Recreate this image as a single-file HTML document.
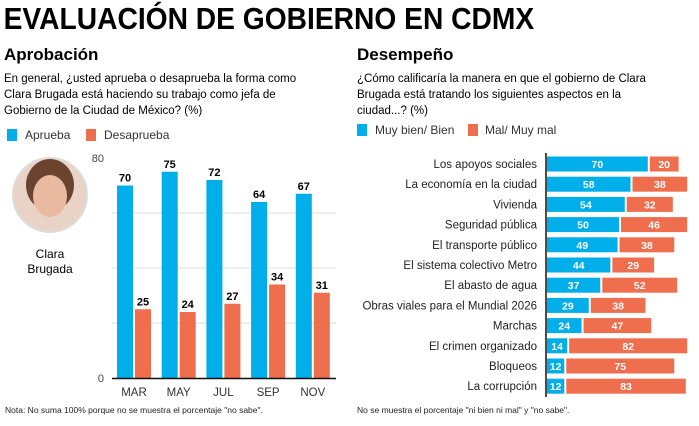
<!DOCTYPE html>
<html><head><meta charset="utf-8"><style>
body{margin:0;width:699px;height:426px;background:#fff;overflow:hidden;font-family:"Liberation Sans",sans-serif;color:#111}
svg{position:absolute;left:0;top:0}
</style></head><body>
<svg id="s" width="699" height="426">
<text x="4" y="29" font-size="31" font-weight="bold" transform="scale(0.91,1)">EVALUACIÓN DE GOBIERNO EN CDMX</text>
<text x="4" y="60" font-size="17" font-weight="bold">Aprobación</text>
<g font-size="11.5">
<text x="4" y="82">En general, ¿usted aprueba o desaprueba la forma como</text>
<text x="4" y="98">Clara Brugada está haciendo su trabajo como jefa de</text>
<text x="4" y="114">Gobierno de la Ciudad de México?  (%)</text></g>
<rect x="7" y="129" width="10" height="12" fill="#00aee9"/>
<text x="25" y="139" font-size="12" fill="#333">Aprueba</text>
<rect x="86" y="129" width="10" height="12" fill="#ee6e4e"/>
<text x="104" y="139" font-size="12" fill="#333">Desaprueba</text>
<circle cx="50" cy="195" r="37" fill="#e8d3c6" stroke="#ddd" stroke-width="2"/>
<ellipse cx="50" cy="185" rx="24" ry="26" fill="#6b4430"/>
<ellipse cx="50" cy="196" rx="17" ry="21" fill="#e9b9a0"/>
<text x="50" y="258" font-size="12" text-anchor="middle"><tspan x="50">Clara</tspan><tspan x="50" dy="15">Brugada</tspan></text>
<text x="357" y="60" font-size="17" font-weight="bold">Desempeño</text>
<g font-size="11.5">
<text x="357" y="82">¿Cómo calificaría la manera en que el gobierno de Clara</text>
<text x="357" y="98">Brugada está tratando los siguientes aspectos en la</text>
<text x="357" y="114">ciudad...?  (%)</text></g>
<rect x="357" y="124" width="10" height="12" fill="#00aee9"/>
<text x="375" y="134" font-size="12" fill="#333">Muy bien/ Bien</text>
<rect x="468" y="124" width="10" height="12" fill="#ee6e4e"/>
<text x="485" y="134" font-size="12" fill="#333">Mal/ Muy mal</text>
<text x="5" y="413" font-size="8.5" fill="#222">Nota: No suma 100% porque no se muestra el porcentaje "no sabe".</text>
<text x="357" y="413" font-size="8.5" fill="#222">No se muestra el porcentaje "ni bien ni mal" y "no sabe".</text>
</svg>
<script>
const months=["MAR","MAY","JUL","SEP","NOV"];
const aprueba=[70,75,72,64,67];
const desaprueba=[25,24,27,34,31];
const yTicks=[0,80];
const aspects=["Los apoyos sociales","La economía en la ciudad","Vivienda","Seguridad pública","El transporte público","El sistema colectivo Metro","El abasto de agua","Obras viales para el Mundial 2026","Marchas","El crimen organizado","Bloqueos","La corrupción"];
const bien=[70,58,54,50,49,44,37,29,24,14,12,12];
const mal=[20,38,32,46,38,29,52,38,47,82,75,83];
const NS="http://www.w3.org/2000/svg",s=document.getElementById("s");
function mk(t,a,txt){const e=document.createElementNS(NS,t);for(const k in a)e.setAttribute(k,a[k]);if(txt!=null)e.textContent=txt;s.appendChild(e);return e;}
const y=v=>378-v*2.75, xc=i=>134+i*44.7;
[20,40,60].forEach(v=>{const g=mk("line",{x1:112,x2:336,y1:y(v),y2:y(v),stroke:"#ddd"});

});
yTicks.forEach(v=>{const t=mk("text",{x:104,y:y(v)+4,"font-size":11,fill:"#444","text-anchor":"end"},v);

});
months.forEach((m,i)=>{
 const b=mk("rect",{x:xc(i)-17,y:y(aprueba[i]),width:16,height:aprueba[i]*2.75,fill:"#00aee9"});
 
 
 const o=mk("rect",{x:xc(i)+1,y:y(desaprueba[i]),width:16,height:desaprueba[i]*2.75,fill:"#ee6e4e"});
 
 
 const l1=mk("text",{x:xc(i)-9,y:y(aprueba[i])-4,"font-size":11,"font-weight":"bold","text-anchor":"middle"},aprueba[i]);
 
 
 const l2=mk("text",{x:xc(i)+9,y:y(desaprueba[i])-4,"font-size":11,"font-weight":"bold","text-anchor":"middle"},desaprueba[i]);
 
 
 const c=mk("text",{x:xc(i),y:396,"font-size":11.5,fill:"#333","text-anchor":"middle"},m);
 
 
});
const ax=mk("line",{x1:112,x2:336,y1:378.5,y2:378.5,stroke:"#111","stroke-width":1.5});


const X0=547,k=1.44,ry=i=>164+i*20.2;
aspects.forEach((a,i)=>{
 const wb=Math.max(bien[i]*k,16),wm=mal[i]*k;
 const b=mk("rect",{x:X0,y:ry(i)-7.5,width:wb,height:15,fill:"#00aee9"});
 
 
 const o=mk("rect",{x:X0+wb+2,y:ry(i)-7.5,width:wm,height:15,fill:"#ee6e4e"});
 
 
 const l1=mk("text",{x:X0+wb/2,y:ry(i)+4,"font-size":10.5,"font-weight":"bold",fill:"#fff","text-anchor":"middle"},bien[i]);
 
 
 const l2=mk("text",{x:X0+wb+2+wm/2,y:ry(i)+4,"font-size":10.5,"font-weight":"bold",fill:"#fff","text-anchor":"middle"},mal[i]);
 
 
 const c=mk("text",{x:537,y:ry(i)+4,"font-size":11.5,fill:"#222","text-anchor":"end"},a);
 
 
});
const va=mk("line",{x1:546,x2:546,y1:153,y2:397,stroke:"#111","stroke-width":1.5});


</script>
</body></html>
